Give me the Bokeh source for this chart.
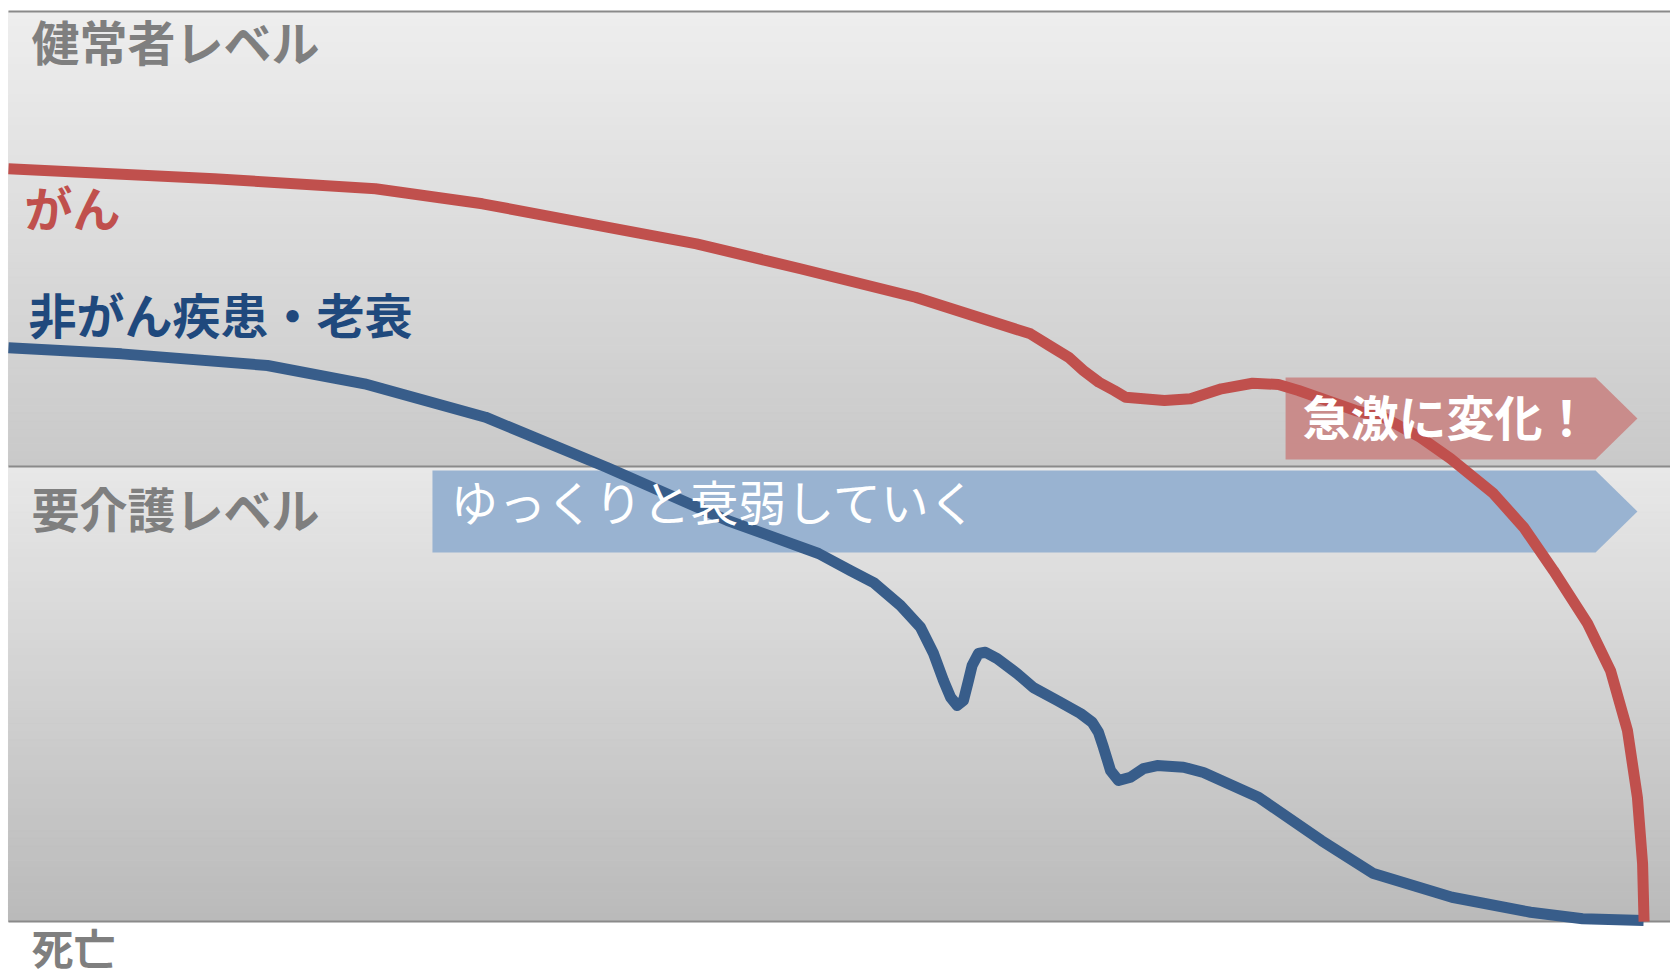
import numpy as np
from bokeh.plotting import figure
from bokeh.models import Range1d
from bokeh.core.properties import value
from bokeh.embed import file_html
from bokeh.resources import INLINE

# ---- data (x: time 0-100, y: level 0=死亡, 50=要介護, 100=健常者) ----
cancer_x = [0.0, 12.39, 22.08, 28.52, 34.96, 41.40, 47.65, 54.57, 61.49, 62.62,
            63.78, 64.68, 65.61, 66.53, 67.21, 69.55, 71.12, 72.98, 74.85, 76.41,
            77.62, 81.05, 82.73, 84.96, 86.76, 89.35, 91.16, 92.96, 95.01, 96.39,
            97.41, 98.01, 98.32, 98.41]
cancer_y = [82.71, 81.62, 80.52, 78.87, 76.67, 74.47, 71.73, 68.60, 64.58, 63.30,
            62.01, 60.55, 59.26, 58.35, 57.62, 57.25, 57.44, 58.54, 59.15, 59.01,
            58.35, 56.15, 55.42, 53.19, 50.88, 47.03, 43.33, 38.57, 32.75, 27.58,
            20.99, 13.63, 6.37, 0.0]

frail_x = [0.0, 6.80, 15.58, 21.42, 28.70, 35.98, 43.26, 48.74, 50.66, 52.05,
           53.67, 54.87, 55.66, 56.26, 56.68, 57.08, 57.46, 57.76, 57.98, 58.36,
           58.78, 59.49, 60.69, 61.67, 63.10, 64.50, 65.20, 65.58, 65.88, 66.31,
           66.79, 67.51, 68.29, 69.11, 70.70, 71.90, 75.21, 79.00, 82.13, 86.85,
           91.58, 94.71, 98.38]
frail_y = [63.04, 62.38, 61.10, 59.09, 55.42, 49.92, 44.07, 40.44, 38.57, 37.25,
           34.73, 32.34, 29.45, 26.48, 24.65, 23.74, 24.29, 26.48, 28.13, 29.45,
           29.59, 28.90, 27.25, 25.71, 24.29, 22.86, 21.90, 20.80, 19.15, 16.59,
           15.49, 15.86, 16.81, 17.14, 16.96, 16.37, 13.66, 8.90, 5.27, 2.67,
           1.02, 0.30, 0.11]

level_values = [100, 50, 0]
level_labels = ["健常者レベル", "要介護レベル", "死亡"]

# arrow annotations: (start x, body end x, tip x, bottom y, top y)
red_arrow = (76.84, 95.49, 98.01, 50.77, 59.78)
blue_arrow = (25.51, 95.49, 98.01, 40.55, 49.56)

FONT = "Noto Sans CJK JP"
RED = "#c0504d"
BLUE = "#385d8a"
GRAY_TXT = "#7f7f7f"

XMIN, XMAX = -0.48, 100.0
p = figure(width=1670, height=977, output_backend="svg", toolbar_location=None,
           x_range=Range1d(XMIN, XMAX), y_range=Range1d(-6.15, 101.21),
           min_border=0, background_fill_color="white", border_fill_color="white")
p.axis.visible = False
p.grid.visible = False
p.outline_line_color = None

# gradient background bands
def band(y0, y1, c_top, c_bot, n=60):
    edges = np.linspace(y1, y0, n + 1)
    ct = np.array([int(c_top[i:i+2], 16) for i in (1, 3, 5)], float)
    cb = np.array([int(c_bot[i:i+2], 16) for i in (1, 3, 5)], float)
    cols = []
    for k in range(n):
        t = (k + 0.5) / n
        c = ct + (cb - ct) * t
        cols.append("#%02x%02x%02x" % tuple(int(round(v)) for v in c))
    p.quad(left=0, right=XMAX, top=edges[:-1], bottom=edges[1:],
           fill_color=cols, line_color=cols, line_width=1)

band(50, 100, "#eeeeee", "#c9c9c9")
band(0, 50, "#e8e8e8", "#bababa")

p.segment(x0=[0] * 3, x1=[XMAX] * 3, y0=level_values, y1=level_values,
          line_color="#8a8a8a", line_width=2)

def arrow(a, color):
    x0, x1, xt, yb, yt = a
    p.patch([x0, x1, xt, x1, x0], [yb, yb, (yb + yt) / 2, yt, yt],
            fill_color=color, line_color=None)

arrow(blue_arrow, "#99b3d1")
arrow(red_arrow, "#c98c8b")

p.line(frail_x, frail_y, line_width=11, line_color=BLUE, line_join="round", line_cap="butt")
p.line(cancer_x, cancer_y, line_width=11, line_color=RED, line_join="round", line_cap="butt")

def label(x, y, txt, color, style="bold", size="48px"):
    p.text(x=[x], y=[y], text=[txt], text_color=color, text_font=value(FONT),
           text_font_size=size, text_font_style=style, text_baseline="middle",
           text_align="left")

label(1.38, 96.85, level_labels[0], GRAY_TXT)
label(1.38, 45.5, level_labels[1], GRAY_TXT)
label(1.38, -2.7, level_labels[2], GRAY_TXT, size="42px")
label(0.96, 78.6, "がん", RED)
label(1.20, 66.9, "非がん疾患・老衰", "#1f497d")
label(26.58, 46.3, "ゆっくりと衰弱していく", "white", style="normal")
label(77.86, 55.65, "急激に変化！", "white")

open("out.html", "w").write(file_html(p, INLINE))
